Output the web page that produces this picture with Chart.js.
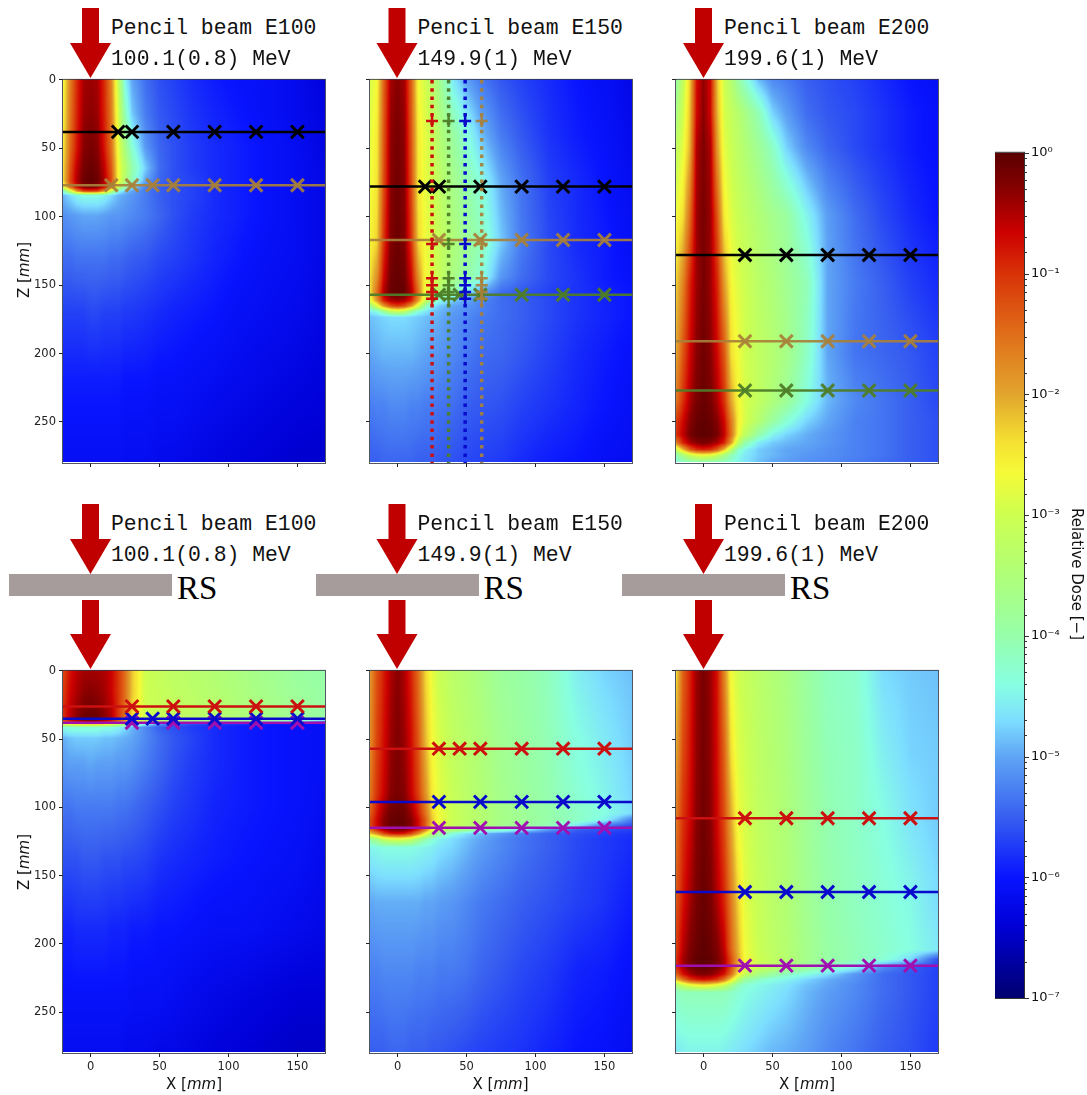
<!DOCTYPE html>
<html>
<head>
<meta charset="utf-8">
<script src="https://cdn.jsdelivr.net/npm/chart.js@4"></script>
<style>
  html, body { margin: 0; background: #fff; }
  #page { position: relative; width: 1087px; height: 1095px; overflow: hidden; }
  canvas { position: absolute; }
  svg { position: absolute; left: 0; top: 0; }
  .txt { position: absolute; white-space: nowrap; color: #111; line-height: 1; }
  .beam { font: 21.4px "Liberation Mono", monospace; }
  .rs { font: 33px "Liberation Serif", serif; color: #000; }
  .axis { font: 15px "DejaVu Sans", sans-serif; }
  .bar { position: absolute; background: #a69c9c; }
</style>
</head>
<body>
<div id="page"></div>
<script>
const xTicks = [0, 50, 100, 150];
const zTicks = [0, 50, 100, 150, 200, 250];
const xCols = [-20, -15, -10, -5, 0, 5, 10, 15, 20, 25, 30, 40, 50, 60, 75, 90, 110, 130, 150, 170];

// dose values are stored as decades below 1 (2.5 means 10^-2.5)
const zE100 = [0, 25, 50, 65, 74, 79, 82, 85, 100, 130, 170, 220, 280];
const doseE100 = [
  [2.7,1.7,0.95,0.45,0.4,0.45,0.95,1.7,3.1,4.5,5.0,5.4,5.6,5.7,5.85,5.95,6.05,6.1,6.2,6.35],
  [2.6,1.6,0.9,0.4,0.32,0.4,0.9,1.6,2.9,4.1,4.8,5.3,5.55,5.65,5.8,5.9,6.0,6.1,6.2,6.3],
  [2.5,1.5,0.8,0.3,0.2,0.3,0.8,1.5,2.7,3.6,4.3,5.1,5.45,5.6,5.75,5.85,5.95,6.05,6.15,6.3],
  [2.4,1.3,0.6,0.2,0.1,0.2,0.6,1.3,2.6,3.3,4.0,4.8,5.4,5.6,5.75,5.85,5.95,6.05,6.15,6.25],
  [2.4,1.2,0.5,0.12,0.05,0.12,0.5,1.2,2.6,3.4,4.1,5.0,5.45,5.6,5.7,5.85,5.95,6.05,6.15,6.25],
  [2.9,1.5,0.7,0.3,0.2,0.3,0.7,1.5,3.0,4.0,4.6,5.25,5.5,5.6,5.7,5.85,5.95,6.05,6.15,6.25],
  [4.3,3.2,1.9,1.2,1.1,1.2,1.9,3.2,4.4,4.8,5.0,5.3,5.5,5.6,5.7,5.85,5.95,6.05,6.15,6.25],
  [4.9,4.7,4.5,4.4,4.4,4.4,4.5,4.7,4.9,5.0,5.1,5.3,5.5,5.6,5.7,5.85,5.95,6.05,6.15,6.25],
  [5.15,5.1,5.05,5.0,5.0,5.0,5.05,5.1,5.1,5.15,5.2,5.3,5.45,5.6,5.75,5.85,5.95,6.05,6.15,6.25],
  [5.4,5.4,5.35,5.35,5.35,5.35,5.35,5.4,5.4,5.45,5.5,5.55,5.65,5.7,5.8,5.9,6.0,6.1,6.15,6.25],
  [5.7,5.7,5.7,5.7,5.65,5.65,5.7,5.7,5.7,5.75,5.75,5.8,5.85,5.9,5.95,6.0,6.1,6.15,6.2,6.3],
  [5.95,5.95,5.95,5.95,5.95,5.95,5.95,5.95,5.95,6.0,6.0,6.0,6.05,6.05,6.1,6.15,6.2,6.25,6.3,6.35],
  [6.1,6.1,6.1,6.1,6.1,6.1,6.1,6.1,6.1,6.15,6.15,6.15,6.2,6.2,6.25,6.3,6.35,6.4,6.45,6.45]
];

const zE150 = [0, 40, 80, 120, 145, 156, 162, 166, 170, 174, 200, 240, 280];
const doseE150 = [
  [2.9,2.65,1.4,0.45,0.3,0.45,1.4,2.65,2.95,3.3,3.7,4.6,5.05,5.3,5.55,5.7,5.85,6.0,6.1,6.25],
  [2.8,2.5,1.3,0.35,0.2,0.35,1.3,2.5,2.8,3.05,3.4,3.9,4.35,4.85,5.3,5.55,5.8,5.95,6.05,6.2],
  [2.7,2.45,1.2,0.3,0.15,0.3,1.2,2.45,2.75,2.95,3.2,3.65,3.95,4.3,4.95,5.35,5.7,5.85,6.0,6.15],
  [2.6,2.3,1.0,0.25,0.12,0.25,1.0,2.3,2.7,2.9,3.1,3.5,3.8,4.1,4.8,5.3,5.65,5.85,5.95,6.1],
  [2.4,1.8,0.7,0.15,0.08,0.15,0.7,1.8,2.6,2.85,3.1,3.6,3.9,4.3,5.1,5.4,5.65,5.8,5.95,6.05],
  [2.4,1.5,0.5,0.1,0.05,0.1,0.5,1.5,2.7,3.0,3.4,4.1,4.6,5.0,5.4,5.55,5.7,5.8,5.9,6.0],
  [2.8,1.9,0.9,0.5,0.4,0.5,0.9,1.9,3.0,3.9,4.4,4.8,5.0,5.2,5.4,5.5,5.65,5.8,5.9,6.0],
  [3.8,2.9,1.9,1.3,1.1,1.3,1.9,2.9,4.0,4.6,4.8,5.0,5.1,5.25,5.4,5.5,5.65,5.8,5.9,6.0],
  [4.6,4.4,3.9,3.3,3.1,3.3,3.9,4.4,4.6,4.8,4.9,5.05,5.15,5.25,5.4,5.5,5.65,5.8,5.9,6.0],
  [4.85,4.8,4.75,4.7,4.7,4.7,4.75,4.8,4.85,4.9,4.95,5.1,5.2,5.3,5.4,5.5,5.65,5.8,5.9,6.0],
  [5.0,4.95,4.9,4.9,4.9,4.9,4.9,4.95,5.0,5.05,5.1,5.2,5.3,5.4,5.45,5.55,5.7,5.85,5.95,6.05],
  [5.3,5.25,5.25,5.2,5.2,5.2,5.25,5.25,5.3,5.3,5.35,5.4,5.5,5.55,5.6,5.7,5.8,5.9,6.0,6.1],
  [5.5,5.5,5.45,5.45,5.45,5.45,5.45,5.5,5.5,5.5,5.55,5.6,5.65,5.7,5.75,5.85,5.95,6.0,6.1,6.15]
];

const zE200 = [0, 25, 50, 100, 150, 200, 235, 250, 260, 266, 271, 275, 280];
const doseE200 = [
  [4.0,3.2,2.3,0.75,0.35,0.7,2.2,3.0,3.4,3.9,4.3,4.9,5.2,5.3,5.5,5.6,5.7,5.85,6.0,6.1],
  [3.6,3.0,2.2,0.7,0.3,0.7,2.1,2.9,3.15,3.35,3.6,4.1,4.75,5.05,5.4,5.55,5.65,5.8,5.95,6.05],
  [3.2,2.8,2.1,0.5,0.25,0.5,1.9,2.8,3.05,3.25,3.45,3.8,4.2,4.75,5.2,5.45,5.65,5.8,5.95,6.05],
  [2.7,2.4,1.5,0.4,0.2,0.4,1.3,2.5,2.85,3.05,3.2,3.45,3.7,3.9,4.5,5.05,5.4,5.65,5.85,6.0],
  [2.3,1.7,0.9,0.4,0.2,0.4,0.9,1.9,2.6,2.85,3.0,3.3,3.5,3.75,4.1,5.0,5.3,5.5,5.7,5.85],
  [2.0,1.3,0.7,0.3,0.15,0.3,0.7,1.3,2.4,2.7,2.95,3.2,3.4,3.65,4.2,5.0,5.35,5.45,5.55,5.7],
  [1.6,1.0,0.5,0.2,0.1,0.2,0.5,1.0,2.0,2.6,2.9,3.2,3.5,3.8,4.4,4.9,5.2,5.35,5.5,5.65],
  [1.1,0.7,0.3,0.1,0.05,0.1,0.3,0.7,1.6,2.5,2.9,3.4,3.9,4.3,4.75,5.0,5.25,5.35,5.5,5.6],
  [1.0,0.6,0.2,0.05,0.02,0.05,0.2,0.6,1.5,2.6,3.2,4.0,4.5,4.75,4.95,5.1,5.25,5.35,5.5,5.6],
  [1.7,0.9,0.5,0.3,0.2,0.3,0.5,0.9,1.9,3.2,4.0,4.6,4.8,4.9,5.0,5.1,5.25,5.35,5.5,5.6],
  [3.2,2.2,1.4,1.0,0.9,1.0,1.4,2.2,3.3,4.2,4.5,4.8,4.9,5.0,5.05,5.15,5.25,5.35,5.5,5.6],
  [4.1,3.6,3.1,2.8,2.7,2.8,3.1,3.6,4.1,4.4,4.6,4.8,4.9,5.0,5.1,5.15,5.25,5.35,5.5,5.6],
  [4.4,4.2,4.1,4.05,4.0,4.05,4.1,4.2,4.3,4.5,4.65,4.85,5.0,5.05,5.15,5.2,5.3,5.4,5.5,5.6]
];

const zE100RS = [0, 15, 30, 36, 38, 40, 42, 50, 70, 100, 140, 190, 240, 280];
const doseE100RS = [
  [1.2,0.8,0.55,0.45,0.45,0.45,0.5,0.65,1.0,1.5,2.2,3.0,3.15,3.25,3.35,3.45,3.6,3.75,3.9,4.0],
  [1.1,0.7,0.5,0.35,0.3,0.35,0.45,0.65,1.0,1.5,2.2,3.0,3.1,3.2,3.3,3.4,3.55,3.7,3.85,3.95],
  [1.0,0.6,0.35,0.2,0.15,0.2,0.35,0.55,1.0,1.5,2.3,3.0,3.1,3.15,3.25,3.35,3.5,3.65,3.8,3.95],
  [1.0,0.55,0.3,0.12,0.08,0.12,0.3,0.5,1.0,1.6,2.4,3.0,3.1,3.2,3.3,3.35,3.5,3.65,3.8,3.9],
  [1.5,1.1,0.8,0.6,0.55,0.6,0.8,1.1,1.6,2.2,2.8,3.3,3.6,3.8,3.9,4.0,4.1,4.3,4.6,5.5],
  [3.0,2.8,2.6,2.5,2.5,2.5,2.6,2.9,3.2,3.6,4.1,4.6,5.2,5.5,5.7,5.8,5.9,6.0,6.05,6.1],
  [4.4,4.3,4.3,4.3,4.3,4.3,4.4,4.4,4.5,4.7,4.9,5.2,5.5,5.6,5.75,5.85,5.95,6.0,6.05,6.1],
  [4.95,4.85,4.8,4.8,4.8,4.8,4.85,4.85,4.9,4.95,5.0,5.2,5.4,5.55,5.7,5.85,5.95,6.0,6.05,6.1],
  [5.1,5.05,5.05,5.05,5.0,5.05,5.05,5.05,5.1,5.1,5.15,5.3,5.45,5.6,5.75,5.85,5.95,6.0,6.05,6.1],
  [5.35,5.35,5.3,5.3,5.3,5.3,5.3,5.3,5.35,5.35,5.4,5.5,5.6,5.7,5.8,5.9,5.95,6.0,6.05,6.15],
  [5.6,5.6,5.6,5.55,5.55,5.55,5.6,5.6,5.6,5.65,5.65,5.7,5.8,5.85,5.9,5.95,6.0,6.05,6.1,6.2],
  [5.9,5.9,5.85,5.85,5.85,5.85,5.85,5.9,5.9,5.9,5.95,5.95,6.0,6.0,6.05,6.1,6.1,6.15,6.2,6.25],
  [6.05,6.05,6.05,6.05,6.05,6.05,6.05,6.05,6.05,6.05,6.1,6.1,6.1,6.15,6.2,6.25,6.3,6.35,6.4,6.4],
  [6.15,6.15,6.15,6.15,6.15,6.15,6.15,6.15,6.15,6.2,6.2,6.2,6.25,6.25,6.3,6.35,6.4,6.45,6.5,6.5]
];

const zE150RS = [0, 50, 90, 105, 110, 114, 117, 120, 124, 130, 170, 220, 280];
const doseE150RS = [
  [1.9,1.25,0.85,0.5,0.3,0.5,0.9,1.5,2.3,2.75,3.05,3.3,3.45,3.6,3.85,3.95,4.15,4.55,4.75,4.85],
  [1.8,1.15,0.75,0.4,0.25,0.4,0.75,1.3,2.1,2.65,2.9,3.2,3.35,3.5,3.75,3.9,4.1,4.4,4.6,4.8],
  [1.6,1.0,0.65,0.3,0.2,0.3,0.65,1.1,1.8,2.5,2.8,3.1,3.3,3.45,3.7,3.85,4.05,4.3,4.5,4.75],
  [1.4,0.8,0.4,0.15,0.1,0.15,0.4,0.85,1.5,2.3,2.7,3.05,3.25,3.4,3.65,3.8,4.0,4.2,4.4,4.7],
  [1.2,0.7,0.3,0.1,0.05,0.1,0.3,0.7,1.3,2.2,2.7,3.05,3.25,3.4,3.65,3.8,4.0,4.2,4.5,5.3],
  [1.2,0.7,0.3,0.1,0.05,0.1,0.3,0.7,1.3,2.3,2.8,3.1,3.3,3.45,3.7,3.85,4.1,4.6,5.3,5.6],
  [1.5,0.9,0.5,0.25,0.2,0.25,0.5,0.9,1.6,2.6,3.1,3.4,3.7,4.0,4.2,4.5,5.1,5.5,5.6,5.7],
  [2.3,1.8,1.2,0.9,0.8,0.9,1.2,1.8,2.6,3.4,3.9,4.4,4.7,4.9,5.1,5.3,5.5,5.6,5.7,5.8],
  [3.9,3.6,3.1,2.9,2.8,2.9,3.1,3.6,4.0,4.3,4.5,4.7,4.85,5.0,5.2,5.35,5.5,5.65,5.75,5.85],
  [4.5,4.45,4.4,4.4,4.4,4.4,4.4,4.45,4.5,4.55,4.65,4.75,4.9,5.05,5.2,5.35,5.5,5.65,5.75,5.85],
  [5.0,4.95,4.95,4.95,4.95,4.95,4.95,4.95,5.0,5.0,5.05,5.1,5.2,5.3,5.4,5.5,5.6,5.7,5.8,5.95],
  [5.25,5.25,5.2,5.2,5.2,5.2,5.2,5.25,5.25,5.25,5.3,5.3,5.35,5.45,5.55,5.65,5.75,5.9,5.95,6.05],
  [5.5,5.5,5.5,5.45,5.45,5.45,5.5,5.5,5.5,5.55,5.55,5.6,5.65,5.7,5.75,5.8,5.9,6.0,6.05,6.15]
];

const zE200RS = [0, 60, 110, 170, 205, 212, 218, 223, 227, 231, 236, 280];
const doseE200RS = [
  [2.4,1.4,0.9,0.4,0.2,0.4,0.8,1.7,2.7,2.95,3.1,3.3,3.45,3.6,3.9,4.15,4.25,4.7,4.8,4.85],
  [2.0,1.2,0.8,0.35,0.18,0.35,0.75,1.4,2.4,2.85,3.0,3.25,3.4,3.55,3.85,4.1,4.2,4.55,4.75,4.8],
  [1.6,1.0,0.7,0.3,0.15,0.3,0.7,1.2,2.0,2.7,2.9,3.2,3.35,3.5,3.8,4.05,4.2,4.4,4.65,4.8],
  [1.3,0.8,0.45,0.2,0.1,0.2,0.5,0.9,1.6,2.3,2.8,3.1,3.3,3.45,3.75,4.0,4.15,4.3,4.45,4.7],
  [1.1,0.55,0.25,0.1,0.03,0.1,0.25,0.6,1.4,2.1,2.7,3.05,3.25,3.4,3.7,3.95,4.1,4.25,4.4,4.6],
  [1.0,0.45,0.2,0.05,0.02,0.05,0.2,0.5,1.2,2.0,2.65,3.0,3.2,3.4,3.7,3.95,4.1,4.3,4.7,5.6],
  [1.0,0.5,0.2,0.1,0.05,0.1,0.2,0.5,1.2,2.1,2.7,3.1,3.3,3.5,3.85,4.1,4.5,5.2,5.5,5.7],
  [1.4,0.8,0.5,0.3,0.25,0.3,0.5,0.8,1.5,2.5,3.1,3.6,3.9,4.2,4.4,4.7,5.1,5.4,5.55,5.7],
  [2.2,1.6,1.1,0.9,0.8,0.9,1.1,1.6,2.4,3.3,3.9,4.2,4.4,4.5,4.75,4.95,5.15,5.4,5.55,5.7],
  [3.6,3.1,2.8,2.6,2.5,2.6,2.8,3.1,3.6,4.1,4.3,4.45,4.55,4.65,4.85,5.0,5.2,5.4,5.55,5.7],
  [4.2,4.1,4.1,4.1,4.1,4.1,4.1,4.1,4.2,4.3,4.4,4.5,4.6,4.7,4.9,5.05,5.2,5.4,5.55,5.7],
  [4.6,4.55,4.5,4.5,4.5,4.5,4.5,4.55,4.6,4.65,4.7,4.8,4.9,4.95,5.05,5.2,5.35,5.5,5.6,5.75]
];

// crosses along the depth lines
const crossAll = [30, 60, 90, 120, 150];
const crossMore = [30, 45, 60, 90, 120, 150];
const crossFine = [20, 30, 60, 90, 120, 150];
const crossTan = [15, 30, 45, 60, 90, 120, 150];

// lateral profiles of the E150 panel and their + marks
const profileX = [25, 37, 49, 61];
const profileZ = [30, 120, 145, 150, 155, 160];

// colormap: decades below 1, then rgb
const cmapStops = [
  [0, 90, 0, 0], [0.3, 135, 0, 0], [0.66, 205, 0, 0], [1, 216, 50, 8], [1.5, 224, 110, 25],
  [2, 226, 165, 45], [2.4, 245, 225, 50], [2.65, 245, 250, 55], [3, 205, 255, 80],
  [3.5, 175, 255, 120], [4, 150, 255, 170], [4.4, 135, 255, 225], [4.7, 125, 222, 255],
  [5, 95, 165, 245], [5.5, 55, 95, 240], [6, 8, 20, 255], [6.4, 0, 0, 215], [7, 0, 0, 110]
];

const tan = 'rgba(168,128,58,0.92)', green = 'rgba(78,125,40,0.95)';
const red = '#cc1010', blue = '#0a0acc', purple = '#a010b0', black = '#000';

const panels = [
  { left: 63, top: 78, h: 385, zs: zE100, dose: doseE100,
    lines: [[38, black, crossFine], [77, tan, crossTan]] },
  { left: 370, top: 78, h: 385, zs: zE150, dose: doseE150, profiles: true,
    lines: [[78, black, crossFine], [117, tan, crossAll], [157, green, crossMore]] },
  { left: 676, top: 78, h: 385, zs: zE200, dose: doseE200,
    lines: [[128, black, crossAll], [191, tan, crossAll], [227, green, crossAll]] },
  { left: 63, top: 669, h: 384, zs: zE100RS, dose: doseE100RS,
    lines: [[26, red, crossAll], [35, blue, crossMore], [38, purple, crossAll]] },
  { left: 370, top: 669, h: 384, zs: zE150RS, dose: doseE150RS,
    lines: [[57, red, crossMore], [96, blue, crossAll], [115, purple, crossAll]] },
  { left: 676, top: 669, h: 384, zs: zE200RS, dose: doseE200RS,
    lines: [[108, red, crossAll], [162, blue, crossAll], [216, purple, crossAll]] }
];

const plotW = 262, padL = 40, padT = 8, padR = 8, padB = 28;
const page = document.getElementById('page');
const tickFont = { family: 'DejaVu Sans', size: 11.5 };

function colorOf(d) {
  if (d <= cmapStops[0][0]) return cmapStops[0].slice(1);
  for (let i = 1; i < cmapStops.length; i++) {
    if (d <= cmapStops[i][0]) {
      const a = cmapStops[i - 1], b = cmapStops[i], t = (d - a[0]) / (b[0] - a[0]);
      return [1, 2, 3].map(k => a[k] + (b[k] - a[k]) * t);
    }
  }
  return cmapStops[cmapStops.length - 1].slice(1);
}

function findCell(list, v) {
  let i = 0;
  while (i < list.length - 2 && v > list[i + 1]) i++;
  const t = Math.min(1, Math.max(0, (v - list[i]) / (list[i + 1] - list[i])));
  return [i, t];
}

// paints the dose table into the plot area, shaded like imshow with bilinear interpolation
function heatmapPlugin(p) {
  return {
    id: 'heatmap',
    beforeDatasetsDraw(chart) {
      const { ctx, chartArea: a, scales } = chart;
      const w = Math.round(a.right - a.left), h = Math.round(a.bottom - a.top);
      const img = ctx.createImageData(w, h);
      const cols = [];
      for (let px = 0; px < w; px++) cols.push(findCell(xCols, scales.x.getValueForPixel(a.left + px + 0.5)));
      for (let py = 0; py < h; py++) {
        const [r, tz] = findCell(p.zs, scales.y.getValueForPixel(a.top + py + 0.5));
        for (let px = 0; px < w; px++) {
          const [c, tx] = cols[px];
          const d = (p.dose[r][c] * (1 - tx) + p.dose[r][c + 1] * tx) * (1 - tz)
                  + (p.dose[r + 1][c] * (1 - tx) + p.dose[r + 1][c + 1] * tx) * tz;
          const rgb = colorOf(d), o = (py * w + px) * 4;
          img.data[o] = rgb[0]; img.data[o + 1] = rgb[1]; img.data[o + 2] = rgb[2]; img.data[o + 3] = 255;
        }
      }
      ctx.putImageData(img, a.left, a.top);
    },
    afterDraw(chart) {
      const { ctx, chartArea: a } = chart;
      ctx.save();
      ctx.strokeStyle = 'rgba(50,55,70,0.85)';
      ctx.lineWidth = 1;
      ctx.strokeRect(a.left - 0.5, a.top - 0.5, a.right - a.left + 1, a.bottom - a.top + 1);
      ctx.restore();
    }
  };
}

function buildDatasets(p) {
  const sets = [];
  if (p.profiles) {
    [red, green, blue, tan].forEach((c, i) => {
      sets.push({ type: 'line', data: [{ x: profileX[i], y: 0 }, { x: profileX[i], y: 280 }],
        borderColor: c, borderWidth: 3.5, borderDash: [3.5, 4.8], pointRadius: 0 });
      sets.push({ type: 'scatter', data: profileZ.map(z => ({ x: profileX[i], y: z })),
        pointStyle: 'cross', pointRadius: 6, pointBorderColor: c, pointBorderWidth: 2.5 });
    });
  }
  p.lines.forEach(([z, c, xs]) => {
    sets.push({ type: 'line', data: [{ x: -20, y: z }, { x: 170, y: z }],
      borderColor: c, borderWidth: 2.5, pointRadius: 0 });
    sets.push({ type: 'scatter', data: xs.map(x => ({ x, y: z })),
      pointStyle: 'crossRot', pointRadius: 9, pointBorderColor: c, pointBorderWidth: 3 });
  });
  return sets;
}

panels.forEach((p, idx) => {
  const c = document.createElement('canvas');
  const W = plotW + padL + padR, H = p.h + padT + padB;
  c.width = W; c.height = H;
  c.style.cssText = `left:${p.left - padL}px;top:${p.top - padT}px;width:${W}px;height:${H}px`;
  page.appendChild(c);
  new Chart(c, {
    type: 'scatter',
    data: { datasets: buildDatasets(p) },
    options: {
      responsive: false,
      animation: false,
      events: [],
      layout: { autoPadding: false, padding: { top: padT, right: padR, left: 0, bottom: 0 } },
      plugins: { legend: { display: false }, tooltip: { enabled: false } },
      scales: {
        x: {
          type: 'linear', min: -20, max: 170,
          afterBuildTicks: s => { s.ticks = xTicks.map(value => ({ value })); },
          afterFit: s => { s.height = padB; },
          grid: { drawOnChartArea: false, tickLength: 4, tickColor: '#222' },
          border: { display: false },
          ticks: { font: tickFont, color: '#222', padding: 3, maxRotation: 0, autoSkip: false,
            callback: v => (idx >= 3 ? v : '') }
        },
        y: {
          type: 'linear', min: 0, max: 280, reverse: true,
          afterBuildTicks: s => { s.ticks = zTicks.map(value => ({ value })); },
          afterFit: s => { s.width = padL; },
          grid: { drawOnChartArea: false, tickLength: 4, tickColor: '#222' },
          border: { display: false },
          ticks: { font: tickFont, color: '#222', padding: 3, autoSkip: false,
            callback: v => (idx % 3 === 0 ? v : '') }
        }
      }
    },
    plugins: [heatmapPlugin(p)]
  });
});

// colorbar
const sup = { '0': '⁰', '1': '¹', '2': '²', '3': '³', '4': '⁴', '5': '⁵', '6': '⁶', '7': '⁷', '-': '⁻' };
const colorbarPlugin = {
  id: 'colorbar',
  beforeDatasetsDraw(chart) {
    const { ctx, chartArea: a, scales } = chart;
    const g = ctx.createLinearGradient(0, a.top, 0, a.bottom);
    const span = scales.y.getPixelForValue(1e-7) - scales.y.getPixelForValue(1);
    cmapStops.forEach(s => {
      const py = scales.y.getPixelForValue(Math.pow(10, -s[0]));
      g.addColorStop(Math.min(1, Math.max(0, (py - a.top) / span)), `rgb(${s[1]},${s[2]},${s[3]})`);
    });
    ctx.fillStyle = g;
    ctx.fillRect(a.left, a.top, a.right - a.left, a.bottom - a.top);
  },
  afterDraw(chart) {
    const { ctx, chartArea: a, scales } = chart;
    ctx.save();
    ctx.strokeStyle = '#333';
    ctx.lineWidth = 1;
    ctx.strokeRect(a.left - 0.5, a.top - 0.5, a.right - a.left + 1, a.bottom - a.top + 1);
    scales.y.ticks.forEach(t => {
      const py = Math.round(scales.y.getPixelForValue(t.value)) + 0.5;
      const e = Math.log10(t.value);
      const len = Math.abs(e - Math.round(e)) < 1e-6 ? 5 : 3;
      ctx.beginPath();
      ctx.moveTo(a.right, py);
      ctx.lineTo(a.right + len, py);
      ctx.stroke();
    });
    ctx.restore();
  }
};
const cb = document.createElement('canvas');
cb.width = 92; cb.height = 882;
cb.style.cssText = 'left:995px;top:138px;width:92px;height:882px';
page.appendChild(cb);
const cbChart = new Chart(cb, {
  type: 'scatter',
  data: { datasets: [] },
  options: {
    responsive: false,
    animation: false,
    events: [],
    layout: { autoPadding: false, padding: { top: 12.5, bottom: 22, left: 0, right: 0 } },
    plugins: { legend: { display: false }, tooltip: { enabled: false } },
    scales: {
      x: { display: false },
      y: {
        type: 'logarithmic', position: 'right', min: 1e-7, max: 1,
        afterFit: s => { s.width = 63; },
        grid: { display: false, drawTicks: false },
        border: { display: false },
        ticks: { font: { family: 'DejaVu Sans', size: 13 }, color: '#111', padding: 7, autoSkip: false,
          callback: v => {
            const e = Math.log10(v);
            if (Math.abs(e - Math.round(e)) > 1e-6) return '';
            return '10' + String(Math.round(e)).split('').map(ch => sup[ch]).join('');
          } }
      }
    }
  },
  plugins: [colorbarPlugin]
});

// headers: arrows, beam captions and range shifter bars
const beamTitles = ['Pencil beam E100', 'Pencil beam E150', 'Pencil beam E200'];
const beamEnergies = ['100.1(0.8) MeV', '149.9(1) MeV', '199.6(1) MeV'];
const arrowX = [90.5, 397, 703.5];

function addText(cls, html, left, top) {
  const d = document.createElement('div');
  d.className = 'txt ' + cls;
  d.innerHTML = html;
  d.style.left = left + 'px';
  d.style.top = top + 'px';
  page.appendChild(d);
  return d;
}

let shapes = '';
function arrow(cx, y0, y1, y2) {
  shapes += `<polygon fill="#c00000" points="${cx - 8.5},${y0} ${cx + 8.5},${y0} ${cx + 8.5},${y1} ${cx + 20.5},${y1} ${cx},${y2} ${cx - 20.5},${y1} ${cx - 8.5},${y1}"/>`;
}
arrowX.forEach((cx, i) => {
  arrow(cx, 8, 43, 78);
  arrow(cx, 504, 539, 574);
  arrow(cx, 600, 634, 669);
  addText('beam', beamTitles[i], cx + 20.5, 16);
  addText('beam', beamEnergies[i], cx + 20.5, 47);
  addText('beam', beamTitles[i], cx + 20.5, 512);
  addText('beam', beamEnergies[i], cx + 20.5, 543);
  const bar = document.createElement('div');
  bar.className = 'bar';
  bar.style.cssText = `left:${cx - 81.5}px;top:574px;width:163px;height:22px`;
  page.appendChild(bar);
  addText('rs', 'RS', cx + 86.5, 570);
  const xl = addText('axis', 'X [<i>mm</i>]', cx + 103.5, 1075);
  xl.style.transform = 'translateX(-50%)';
});
const svg = document.createElementNS('http://www.w3.org/2000/svg', 'svg');
svg.setAttribute('width', 1087);
svg.setAttribute('height', 1095);
svg.innerHTML = shapes;
page.appendChild(svg);

[270, 862].forEach(cy => {
  const z = addText('axis', 'Z [<i>mm</i>]', 24, cy);
  z.style.transform = 'translate(-50%,-50%) rotate(-90deg)';
});
const rel = addText('axis', 'Relative Dose [−]', 1077, 574);
rel.style.transform = 'translate(-50%,-50%) rotate(90deg)';
</script>
</body>
</html>
